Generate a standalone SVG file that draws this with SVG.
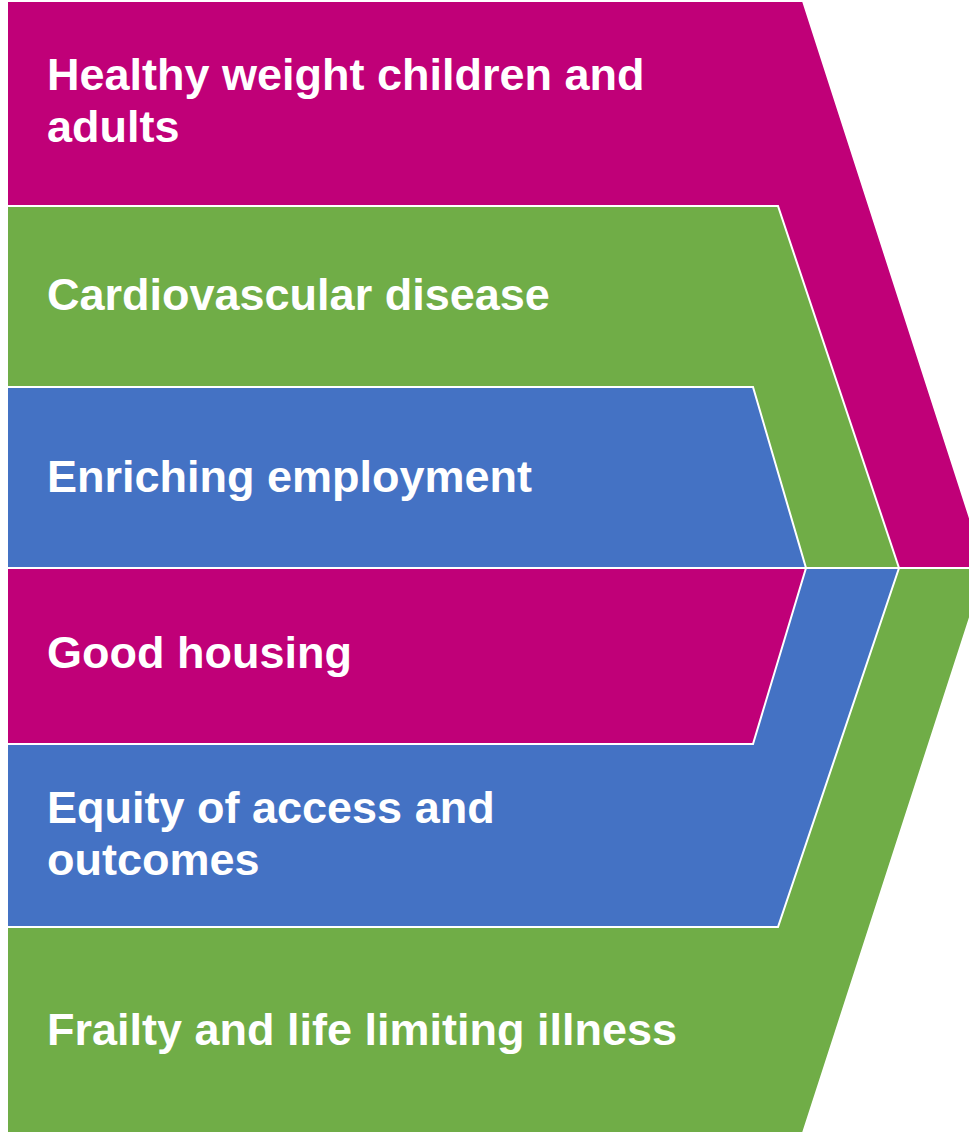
<svg xmlns="http://www.w3.org/2000/svg" width="969" height="1132" viewBox="0 0 969 1132">
<style>
.s{stroke:#FFFFFF;stroke-width:2;stroke-linejoin:miter}
.m{fill:#C00078}
.g{fill:#70AD47}
.b{fill:#4472C4}
.t{font-family:"Liberation Sans",Arial,sans-serif;font-weight:bold;font-size:45px;fill:#FFFFFF}
</style>
<rect x="0" y="0" width="969" height="1132" fill="#FFFFFF"/>
<g id="healthy-weight">
<polygon class="s m" points="7,1 803,1 986,568 7,568"/>
</g>
<g id="frailty">
<polygon class="s g" points="7,568 986,568 803,1133 7,1133"/>
</g>
<g id="cardiovascular">
<polygon class="s g" points="7,206 778,206 899,568 7,568"/>
</g>
<g id="equity">
<polygon class="s b" points="7,568 899,568 778,927 7,927"/>
</g>
<g id="employment">
<polygon class="s b" points="7,387 753,387 806,568 7,568"/>
</g>
<g id="housing">
<polygon class="s m" points="7,568 806,568 753,744 7,744"/>
</g>
<g id="labels">
<text class="t" x="47" y="90">Healthy weight children and</text>
<text class="t" x="47" y="142">adults</text>
<text class="t" x="47" y="310">Cardiovascular disease</text>
<text class="t" x="47" y="492">Enriching employment</text>
<text class="t" x="47" y="668">Good housing</text>
<text class="t" x="47" y="823">Equity of access and</text>
<text class="t" x="47" y="875">outcomes</text>
<text class="t" x="47" y="1045">Frailty and life limiting illness</text>
</g>
<g id="connectors"/>
</svg>
